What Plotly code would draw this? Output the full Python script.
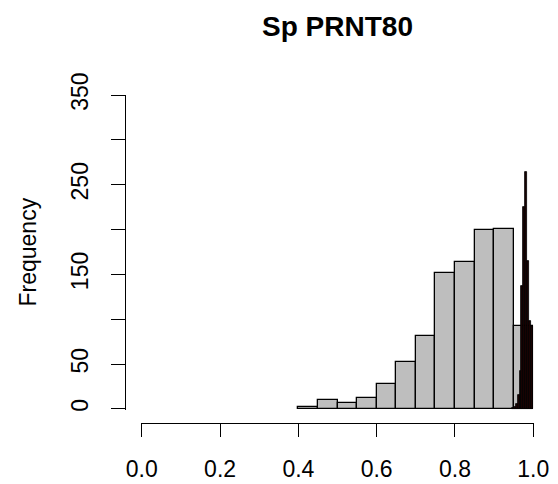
import plotly.graph_objects as go

# Gray histogram (bin width 0.05)
gray_left = [0.40, 0.45, 0.50, 0.55, 0.60, 0.65, 0.70, 0.75, 0.80, 0.85, 0.90, 0.95]
gray_counts = [2, 10, 7, 12, 28, 52, 81, 152, 164, 200, 201, 93]
gray_width = 0.05

# Dark histogram (bin width 0.005)
dark_left = [0.945, 0.950, 0.955, 0.960, 0.965, 0.970, 0.975, 0.980, 0.985, 0.990, 0.995]
dark_counts = [1, 2, 5, 16, 42, 137, 225, 264, 165, 98, 93]
dark_width = 0.005

x_ticks = [0.0, 0.2, 0.4, 0.6, 0.8, 1.0]
x_ticktext = ["0.0", "0.2", "0.4", "0.6", "0.8", "1.0"]
y_ticks = [0, 50, 100, 150, 200, 250, 300, 350]
y_ticktext = ["0", "50", "", "150", "", "250", "", "350"]

FONT = "Liberation Sans, Arial, sans-serif"

fig = go.Figure()
fig.add_trace(go.Bar(
    x=[l + gray_width / 2 for l in gray_left], y=gray_counts,
    width=[gray_width] * len(gray_left),
    marker=dict(color="#BEBEBE", line=dict(color="black", width=1.3)),
    hoverinfo="skip", showlegend=False))
fig.add_trace(go.Bar(
    x=[l + dark_width / 2 for l in dark_left], y=dark_counts,
    width=[dark_width] * len(dark_left),
    marker=dict(color="#1a0303", line=dict(color="black", width=0.8)),
    hoverinfo="skip", showlegend=False))

# page body has an 8px margin: work in page coords minus 8
OFF = 8
W, H = 558 - OFF, 484 - OFF
L, R, T, B = 125 - OFF, 24, 95 - OFF, 61
pw = W - L - R  # 409
ph = H - T - B  # 328

fig.update_layout(
    width=W, height=H, barmode="overlay", bargap=0,
    plot_bgcolor="white", paper_bgcolor="white",
    margin=dict(l=L, r=R, t=T, b=B, autoexpand=False),
    font=dict(family=FONT, size=23, color="black"),
    title=dict(text="<b>Sp PRNT80</b>", x=(337.5 - OFF) / W, xanchor="center",
               y=1 - (26 - OFF) / H, yanchor="middle", xref="container", yref="container",
               automargin=False,
               font=dict(family=FONT, size=28, color="black")),
    xaxis=dict(domain=[(141 - 125) / pw, 1], range=[-0.002, 1.002],
               anchor="free", position=0, automargin=False,
               showline=True, linecolor="black", linewidth=1.3,
               ticks="outside", ticklen=13, tickwidth=1.3, tickcolor="black",
               tickvals=x_ticks, ticktext=x_ticktext, ticklabelstandoff=12,
               showgrid=False, zeroline=False),
    yaxis=dict(domain=[(423 - 410) / ph, 1], range=[-1.2, 350],
               anchor="free", position=0, automargin=False,
               showline=True, linecolor="black", linewidth=1.3,
               ticks="outside", ticklen=14, tickwidth=1.3, tickcolor="black",
               tickvals=y_ticks, ticktext=y_ticktext, tickangle=-90,
               ticklabelstandoff=14,
               showgrid=False, zeroline=False),
    annotations=[dict(text="Frequency", textangle=-90, xref="paper", yref="paper",
                      x=(27 - 125) / pw, y=(423 - 252.5) / ph, xanchor="center",
                      yanchor="middle", showarrow=False,
                      font=dict(family=FONT, size=23, color="black"))],
)

fig.write_html("out.html")
